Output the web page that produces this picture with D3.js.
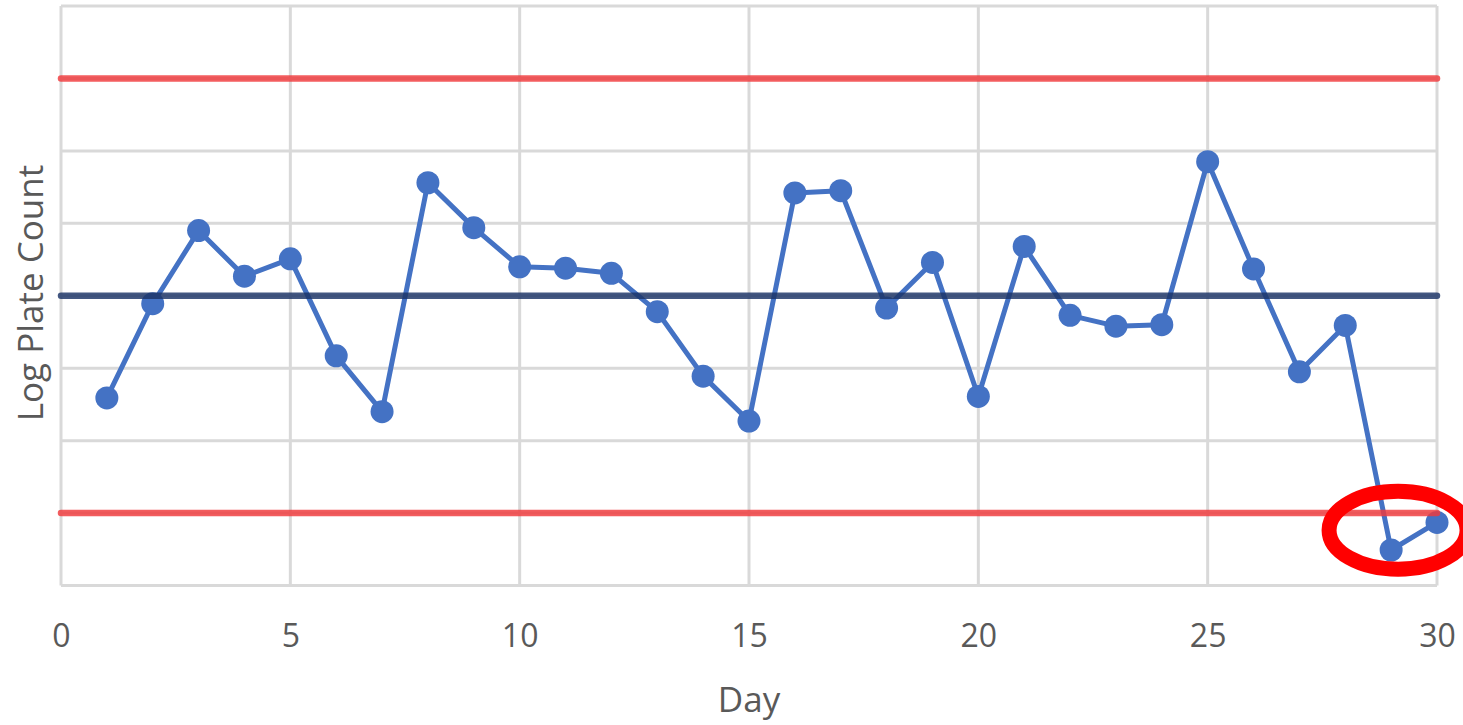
<!DOCTYPE html>
<html>
<head>
<meta charset="utf-8">
<script src="https://cdn.jsdelivr.net/npm/d3@7"></script>
<style>
  body { margin: 0; background: #fff; }
  .control-chart text { font-family: "Open Sans", sans-serif; fill: #595959; }
</style>
</head>
<body>
<div class="control-chart"></div>
<script>
// data
var days = [1,2,3,4,5,6,7,8,9,10,11,12,13,14,15,16,17,18,19,20,21,22,23,24,25,26,27,28,29,30];
var logCounts = [2.59,3.89,4.90,4.27,4.51,3.17,2.40,5.56,4.94,4.40,4.38,4.31,3.78,2.89,2.27,5.42,5.45,3.83,4.46,2.61,4.68,3.73,3.58,3.60,5.85,4.37,2.95,3.59,0.49,0.87];
var xTicks = [0,5,10,15,20,25,30];
var yGrid = [0,1,2,3,4,5,6,7,8];
var limits = {ucl: 7, mean: 4, lcl: 1};
var flaggedDays = [29,30];

function ControlChart(){
    var self = this;
    self.init();
};

ControlChart.prototype.init = function(){
    var self = this;
    self.width = 1463;
    self.height = 725;

    var div = d3.select(".control-chart");
    self.svg = div.append("svg")
        .attr("width", self.width)
        .attr("height", self.height);

    self.x = d3.scaleLinear()
      .domain([0, 30])
      .range([61, 1437]);

    self.y = d3.scaleLinear()
      .domain([0, 8])
      .range([585.5, 6]);
};

ControlChart.prototype.draw = function(){
    var self = this;
    var svg = self.svg, x = self.x, y = self.y;

    // gridlines
    svg.append("g").selectAll("line.h")
      .data(yGrid).enter().append("line")
      .attr("x1", x(0)).attr("x2", x(30))
      .attr("y1", function(d){ return y(d) }).attr("y2", function(d){ return y(d) })
      .attr("stroke", "#d9d9d9").attr("stroke-width", 3);

    svg.append("g").selectAll("line.v")
      .data(xTicks).enter().append("line")
      .attr("x1", function(d){ return x(d) }).attr("x2", function(d){ return x(d) })
      .attr("y1", y(0)).attr("y2", y(8))
      .attr("stroke", "#d9d9d9").attr("stroke-width", 3);

    // x tick labels
    var xAxis = svg.append("g")
      .attr("transform", "translate(0," + y(0) + ")")
      .call(d3.axisBottom(x).tickValues(xTicks).tickSize(0).tickPadding(39));
    xAxis.select(".domain").remove();
    xAxis.selectAll("text").style("font-size", "32px");

    // data series
    var line = d3.line()
      .x(function(d,i){ return x(days[i]) })
      .y(function(d){ return y(d) });

    svg.append("path")
      .datum(logCounts)
      .attr("d", line)
      .attr("fill", "none")
      .attr("stroke", "#4472c4")
      .attr("stroke-width", 5)
      .attr("stroke-linejoin", "round");

    svg.append("g").selectAll("circle")
      .data(logCounts).enter().append("circle")
      .attr("cx", function(d,i){ return x(days[i]) })
      .attr("cy", function(d){ return y(d) })
      .attr("r", 11.5)
      .attr("fill", "#4472c4");

    // control limits and centre line
    [["ucl", "#f0393c", 0.82], ["lcl", "#f0393c", 0.82], ["mean", "#1b3366", 0.82]].forEach(function(l){
        svg.append("line")
          .attr("x1", x(0)).attr("x2", x(30))
          .attr("y1", y(limits[l[0]])).attr("y2", y(limits[l[0]]))
          .attr("stroke", l[1]).attr("stroke-opacity", l[2])
          .attr("stroke-width", 6.5)
          .attr("stroke-linecap", "round");
    });

    // circle round the out-of-control points
    var fx = flaggedDays.map(function(d){ return x(d) });
    var fy = flaggedDays.map(function(d){ return y(logCounts[d-1]) });
    svg.append("ellipse")
      .attr("cx", d3.mean(fx) - 16)
      .attr("cy", d3.mean(fy) - 6)
      .attr("rx", 69)
      .attr("ry", 39)
      .attr("fill", "none")
      .attr("stroke", "#ff0000")
      .attr("stroke-width", 15);

    // axis titles
    svg.append("text")
      .attr("x", (x(0) + x(30)) / 2)
      .attr("y", 712)
      .attr("text-anchor", "middle")
      .style("font-size", "35px")
      .text("Day");

    svg.append("text")
      .attr("transform", "translate(43," + 293 + ") rotate(-90)")
      .attr("text-anchor", "middle")
      .style("font-size", "35px")
      .text("Log Plate Count");
};

var chart = new ControlChart();
chart.draw();
</script>
</body>
</html>
